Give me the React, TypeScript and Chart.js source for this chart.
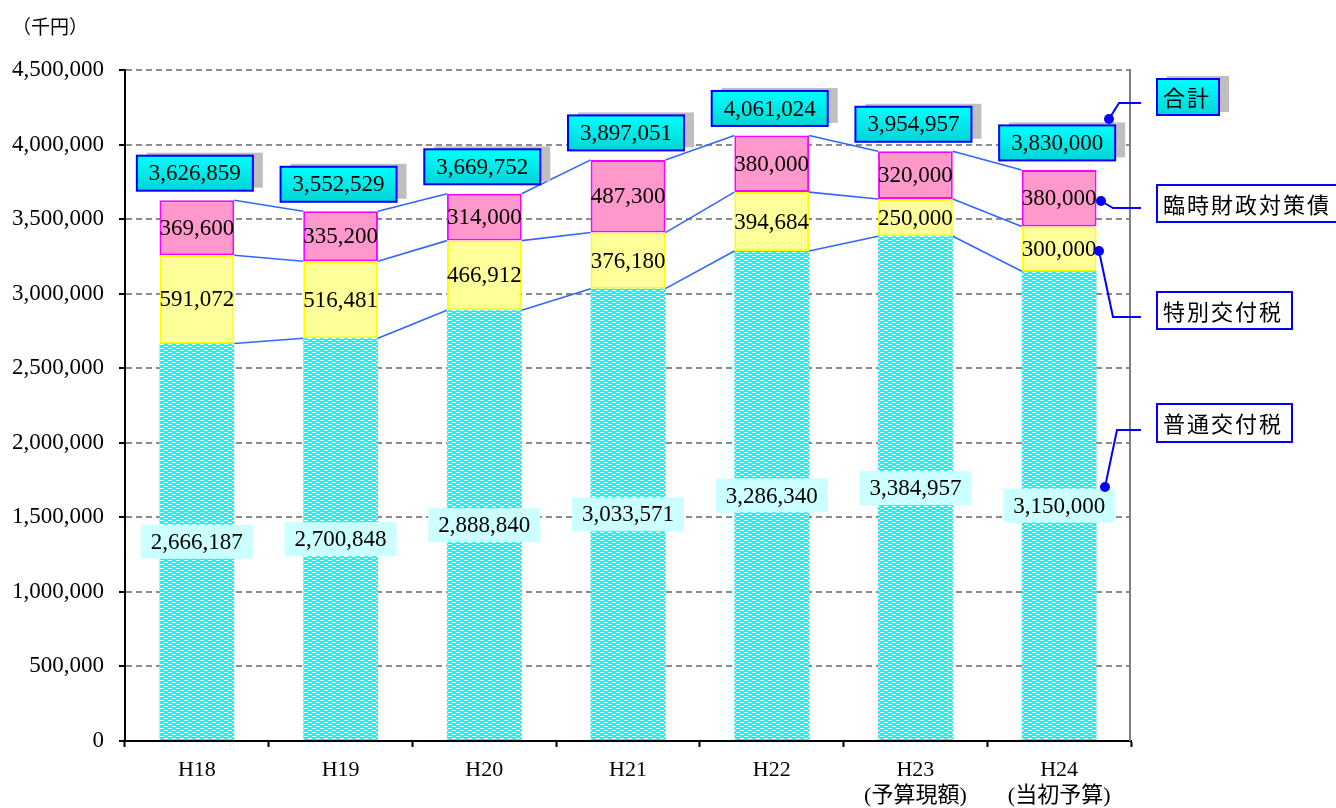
import { useEffect, useRef } from "react";
import { Chart, registerables } from "chart.js";

Chart.register(...registerables);

// ---- data ----
const categories: (string | string[])[] = ["H18", "H19", "H20", "H21", "H22", ["H23", "(予算現額)"], ["H24", "(当初予算)"]];
const futsuuKofuzei = [2666187, 2700848, 2888840, 3033571, 3286340, 3384957, 3150000];
const tokubetsuKofuzei = [591072, 516481, 466912, 376180, 394684, 250000, 300000];
const rinjiZaiseiTaisakusai = [369600, 335200, 314000, 487300, 380000, 320000, 380000];
const goukei = [3626859, 3552529, 3669752, 3897051, 4061024, 3954957, 3830000];
const seriesNames = ["普通交付税", "特別交付税", "臨時財政対策債", "合計"];
const yMin = 0;
const yMax = 4500000;
const yStep = 500000;
const unitLabel = "（千円）";

const NUM_FONT = "'Liberation Serif', 'Noto Sans CJK JP', serif";
const JP_FONT = "'Noto Sans CJK JP', 'Noto Sans', sans-serif";

function fmt(v: number) {
  return v.toLocaleString("en-US");
}

function cyanGrad(ctx: CanvasRenderingContext2D, y: number, h: number) {
  const g = ctx.createLinearGradient(0, y, 0, y + h);
  g.addColorStop(0, "#00FFFF");
  g.addColorStop(1, "#00D4D4");
  return g;
}

function drawBox(ctx: CanvasRenderingContext2D, x: number, y: number, w: number, h: number, cyan: boolean) {
  if (cyan) {
    ctx.fillStyle = "#BFBFBF";
    ctx.fillRect(x + 10, y - 3, w, h);
    ctx.fillStyle = cyanGrad(ctx, y, h);
  } else {
    ctx.fillStyle = "#FFFFFF";
  }
  ctx.fillRect(x, y, w, h);
  ctx.strokeStyle = "#0000FF";
  ctx.lineWidth = 2;
  ctx.strokeRect(x, y, w, h);
}

const decorPlugin = {
  id: "decor",
  beforeDatasetsDraw(chart: any) {
    const { ctx, chartArea: a } = chart;
    ctx.save();
    ctx.strokeStyle = "#808080";
    ctx.lineWidth = 2;
    ctx.beginPath();
    ctx.moveTo(a.right - 1, a.top);
    ctx.lineTo(a.right - 1, a.bottom);
    ctx.stroke();
    ctx.restore();
  },
  afterDatasetsDraw(chart: any) {
    const ctx: CanvasRenderingContext2D = chart.ctx;
    ctx.save();
    // series lines between stacked bars
    ctx.strokeStyle = "#3366FF";
    ctx.lineWidth = 1.6;
    for (let k = 0; k < 3; k++) {
      const meta = chart.getDatasetMeta(k);
      for (let i = 0; i < meta.data.length - 1; i++) {
        const a: any = meta.data[i];
        const b: any = meta.data[i + 1];
        ctx.beginPath();
        ctx.moveTo(a.x + a.width / 2, a.y);
        ctx.lineTo(b.x - b.width / 2, b.y);
        ctx.stroke();
      }
    }
    // segment labels
    ctx.font = `23px ${NUM_FONT}`;
    ctx.textAlign = "center";
    ctx.textBaseline = "middle";
    for (let k = 0; k < 3; k++) {
      const meta = chart.getDatasetMeta(k);
      const data = chart.data.datasets[k].data as number[];
      meta.data.forEach((el: any, i: number) => {
        const cy = (el.y + el.base) / 2;
        if (k === 0) {
          ctx.fillStyle = "#CCFFFF";
          ctx.fillRect(el.x - 56, cy - 17, 112, 34);
        }
        ctx.fillStyle = "#000000";
        ctx.fillText(fmt(data[i]), el.x, cy + 1);
      });
    }
    // total labels
    const tm = chart.getDatasetMeta(3);
    const tdata = chart.data.datasets[3].data as number[];
    tm.data.forEach((pt: any, i: number) => {
      const cx = pt.x - 2;
      const cy = pt.y - 27;
      drawBox(ctx, cx - 58, cy - 17.5, 116, 35, true);
      ctx.fillStyle = "#000000";
      ctx.fillText(fmt(tdata[i]), cx, cy + 1);
    });
    ctx.restore();
  },
  afterDraw(chart: any) {
    const ctx: CanvasRenderingContext2D = chart.ctx;
    ctx.save();
    // unit label
    ctx.font = `19px ${JP_FONT}`;
    ctx.fillStyle = "#000";
    ctx.textAlign = "left";
    ctx.textBaseline = "middle";
    ctx.fillText(unitLabel, 12, 27);

    // legend callouts
    const items = [
      { name: seriesNames[3], box: [1157, 79, 62, 36], cyan: true, dot: [1109, 119], elbow: [1119, 103] },
      { name: seriesNames[2], box: [1157, 185, 190, 37], cyan: false, dot: [1101, 201], elbow: [1113, 208] },
      { name: seriesNames[1], box: [1157, 292, 135, 37], cyan: false, dot: [1099, 251], elbow: [1113, 317] },
      { name: seriesNames[0], box: [1157, 404, 135, 38], cyan: false, dot: [1105, 487], elbow: [1117, 430] },
    ];
    items.forEach((it) => {
      const [bx, by, bw, bh] = it.box;
      ctx.strokeStyle = "#0000FF";
      ctx.lineWidth = 2;
      ctx.beginPath();
      ctx.moveTo(it.dot[0], it.dot[1]);
      ctx.lineTo(it.elbow[0], it.elbow[1]);
      ctx.lineTo(1141, it.elbow[1]);
      ctx.stroke();
      ctx.fillStyle = "#0000FF";
      ctx.beginPath();
      ctx.arc(it.dot[0], it.dot[1], 5, 0, Math.PI * 2);
      ctx.fill();
      drawBox(ctx, bx, by, bw, bh, it.cyan);
      ctx.fillStyle = "#000";
      ctx.font = `22px ${JP_FONT}`;
      (ctx as any).letterSpacing = "2px";
      ctx.textAlign = "left";
      ctx.textBaseline = "middle";
      ctx.fillText(it.name, bx + 6, by + bh / 2 + 1);
      (ctx as any).letterSpacing = "0px";
    });
    ctx.restore();
  },
};

export default function App() {
  const ref = useRef<HTMLCanvasElement>(null);
  useEffect(() => {
    const canvas = ref.current!;
    const ctx = canvas.getContext("2d")!;
    const pc = document.createElement("canvas");
    pc.width = 8;
    pc.height = 4;
    const p = pc.getContext("2d")!;
    p.fillStyle = "#00FFFF";
    p.fillRect(0, 0, 8, 4);
    p.fillStyle = "#FFFFFF";
    p.fillRect(0, 0, 4, 1);
    p.fillRect(4, 2, 4, 1);
    const pattern = ctx.createPattern(pc, "repeat")!;

    const chart = new Chart(canvas, {
      type: "bar",
      data: {
        labels: categories as any,
        datasets: [
          {
            label: seriesNames[0],
            data: futsuuKofuzei,
            backgroundColor: pattern as any,
            borderWidth: 0,
            stack: "s",
          },
          {
            label: seriesNames[1],
            data: tokubetsuKofuzei,
            backgroundColor: "#FFFF99",
            borderColor: "#FFFF00",
            borderWidth: 2,
            borderSkipped: false,
            stack: "s",
          },
          {
            label: seriesNames[2],
            data: rinjiZaiseiTaisakusai,
            backgroundColor: "#FF99CC",
            borderColor: "#FF00FF",
            borderWidth: 2,
            borderSkipped: false,
            stack: "s",
          },
          {
            type: "line",
            label: seriesNames[3],
            data: goukei,
            showLine: false,
            pointRadius: 0,
            stack: "total",
          } as any,
        ],
      },
      options: {
        responsive: false,
        animation: false,
        devicePixelRatio: 1,
        barPercentage: 0.52,
        categoryPercentage: 1.0,
        layout: { padding: { left: 0, top: 70, right: 205, bottom: 0 } },
        plugins: {
          legend: { display: false },
          tooltip: { enabled: false },
        },
        scales: {
          x: {
            stacked: true,
            offset: true,
            grid: {
              display: true,
              drawOnChartArea: false,
              drawTicks: true,
              tickLength: 6,
              tickColor: "#000",
              tickWidth: 2,
              offset: true,
            },
            border: { display: true, color: "#000", width: 2 },
            ticks: {
              color: "#000",
              font: { family: NUM_FONT, size: 22, lineHeight: 1.2 },
              padding: 10,
              maxRotation: 0,
              autoSkip: false,
            },
            afterFit: (s: any) => {
              s.height = 67;
            },
          },
          y: {
            stacked: true,
            min: yMin,
            max: yMax,
            grid: {
              color: "#8C8C8C",
              lineWidth: 2,
              tickColor: "#000",
              tickLength: 6,
              tickWidth: 2,
              tickBorderDash: [],
            },
            border: { display: true, color: "#000", width: 2, dash: [6, 4] },
            ticks: {
              stepSize: yStep,
              color: "#000",
              font: { family: NUM_FONT, size: 23 },
              padding: 15,
              callback: (v: any) => fmt(Number(v)),
            },
            afterFit: (s: any) => {
              s.width = 125;
            },
          },
        },
      },
      plugins: [decorPlugin],
    });
    return () => chart.destroy();
  }, []);

  return (
    <div style={{ position: "fixed", left: 0, top: 0, width: 1336, height: 808, background: "#fff" }}>
      <canvas ref={ref} width={1336} height={808} style={{ display: "block" }} />
    </div>
  );
}
